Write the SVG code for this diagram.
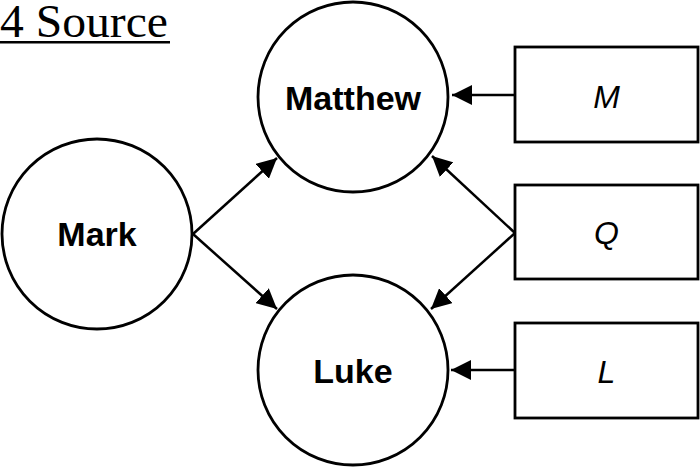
<svg xmlns="http://www.w3.org/2000/svg" width="700" height="468" viewBox="0 0 700 468">
<style>
.node{fill:#fff;stroke:#000;stroke-width:2.8}
.lbl{font-family:"Liberation Sans",Arial,sans-serif;font-weight:bold;font-size:34px;text-anchor:middle;fill:#000}
.src{font-family:"Liberation Sans",Arial,sans-serif;font-style:italic;font-size:32px;text-anchor:middle;fill:#000}
.edge{stroke:#000;stroke-width:2.5;fill:none;marker-end:url(#ah)}
</style>
<defs>
<marker id="ah" viewBox="0 0 20 20" refX="20" refY="10" markerWidth="20" markerHeight="20" markerUnits="userSpaceOnUse" orient="auto">
<path d="M0,0 L20,10 L0,20 z" fill="#000"/>
</marker>
</defs>
<rect width="700" height="468" fill="#fff"/>
<g id="title">
<text x="0" y="37" font-family="'Liberation Serif','Times New Roman',serif" font-size="47" textLength="168" lengthAdjust="spacingAndGlyphs" fill="#000">4 Source</text>
<rect x="0" y="41" width="170" height="2.5" fill="#000"/>
</g>
<g id="connectors">
<line class="edge" x1="515" y1="95" x2="452" y2="95"/>
<line class="edge" x1="515" y1="233" x2="432" y2="156"/>
<line class="edge" x1="515" y1="233" x2="431" y2="309"/>
<line class="edge" x1="193" y1="234" x2="277" y2="158"/>
<line class="edge" x1="193" y1="234" x2="277" y2="309"/>
<line class="edge" x1="515" y1="370" x2="451" y2="370"/>
</g>
<g id="matthew">
<circle class="node" cx="353" cy="97" r="95"/>
<text class="lbl" x="353" y="110">Matthew</text>
</g>
<g id="mark">
<circle class="node" cx="97" cy="234" r="95"/>
<text class="lbl" x="97" y="246">Mark</text>
</g>
<g id="luke">
<circle class="node" cx="353" cy="370" r="95"/>
<text class="lbl" x="353" y="383">Luke</text>
</g>
<g id="M">
<rect class="node" x="515" y="47" width="183" height="95"/>
<text class="src" x="606.5" y="108">M</text>
</g>
<g id="Q">
<rect class="node" x="515" y="185" width="183" height="94"/>
<text class="src" x="606.5" y="244">Q</text>
</g>
<g id="L">
<rect class="node" x="515" y="323" width="183" height="95"/>
<text class="src" x="606.5" y="383">L</text>
</g>
</svg>
